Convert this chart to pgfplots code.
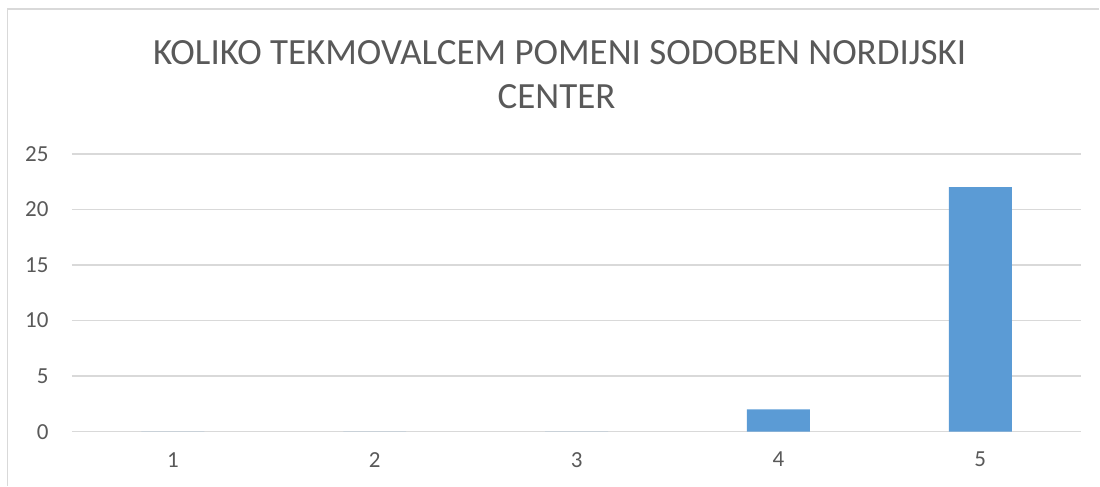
\documentclass[border=0pt]{standalone}
\usepackage{fontspec}
\setmainfont{Carlito}
\usepackage{pgfplots}
\pgfplotsset{compat=1.18}
\definecolor{barblue}{HTML}{5B9BD5}
\definecolor{txtgray}{HTML}{595959}
\definecolor{gridgray}{HTML}{D9D9D9}
\begin{document}
\begin{tikzpicture}[x=1pt,y=1pt]
\path (0,0) rectangle (1100,486);
\draw[gridgray, line width=1.5pt] (7.5,0) -- (7.5,477) -- (1100,477);
\node[txtgray, font=\fontsize{37}{44}\selectfont, anchor=base, inner sep=0pt] at (560,421) {KOLIKO TEKMOVALCEM POMENI SODOBEN NORDIJSKI};
\node[txtgray, font=\fontsize{37}{44}\selectfont, anchor=base, inner sep=0pt] at (557,377) {CENTER};
\begin{axis}[
  at={(72pt,54pt)}, anchor=south west,
  width=1010pt, height=278pt, scale only axis,
  xmin=0.5, xmax=5.5, ymin=0, ymax=25,
  axis line style={draw=none},
  ymajorgrids, grid style={gridgray, line width=1.3pt},
  ytick={0,5,...,25}, xtick={1,2,3,4,5},
  tick style={draw=none},
  ticklabel style={font=\fontsize{23}{27}\selectfont, text=txtgray},
  /pgf/number format/assume math mode=true,
  yticklabel style={anchor=east, xshift=-20pt},
  xticklabel style={anchor=north, yshift=-17pt},
  clip=false,
]
\addplot[ybar, bar width=63pt, fill=barblue, draw=none] coordinates {(1,0) (2,0) (3,0) (4,2) (5,22)};
\end{axis}
\end{tikzpicture}
\end{document}
